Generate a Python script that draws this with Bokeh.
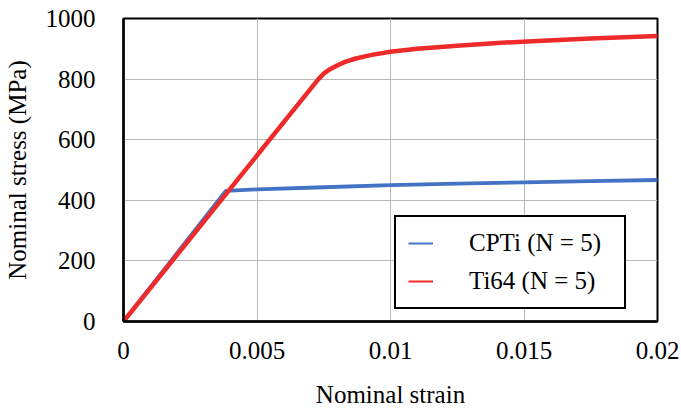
from bokeh.plotting import figure
from bokeh.models import FixedTicker, Legend, LegendItem, NumeralTickFormatter
from bokeh.embed import file_html
from bokeh.resources import INLINE

# ---- data ----
cpti_strain = [0, 0.00383, 0.005, 0.0075, 0.01, 0.0125, 0.015, 0.0175, 0.02]
cpti_stress = [0, 431, 436, 443, 450, 455, 459, 463, 467]

ti64_strain = [0, 0.0073, 0.0075, 0.0077, 0.0080, 0.0083, 0.0087, 0.0093, 0.0100,
               0.0110, 0.0125, 0.0140, 0.0155, 0.0175, 0.0200]
ti64_stress = [0, 800, 818, 831, 845, 857, 868, 880, 890,
               900, 910, 919, 926, 934, 942]

series_names = ["CPTi (N = 5)", "Ti64 (N = 5)"]
series_colors = ["#4472C4", "#EE2A2A"]

x_ticks = [0, 0.005, 0.01, 0.015, 0.02]
x_tick_labels = ["0", "0.005", "0.01", "0.015", "0.02"]
y_ticks = [0, 200, 400, 600, 800, 1000]
y_tick_labels = ["0", "200", "400", "600", "800", "1000"]

FONT = "Liberation Serif"
FS = "25px"

p = figure(frame_width=534, frame_height=303,
           x_range=(0, 0.02), y_range=(0, 1000),
           output_backend="svg", toolbar_location=None,
           min_border_left=115, min_border_top=18,
           min_border_right=23, min_border_bottom=88,
           x_axis_label="Nominal strain", y_axis_label="Nominal stress (MPa)")

p.background_fill_color = "white"
p.border_fill_color = "white"
p.outline_line_color = "black"
p.outline_line_width = 2

# thin copies (hidden under the thick curves) give the legend its thin swatches
l1 = p.line(cpti_strain, cpti_stress, line_color=series_colors[0], line_width=2)
l2 = p.line(ti64_strain, ti64_stress, line_color=series_colors[1], line_width=2)

r1 = p.line(cpti_strain, cpti_stress, line_color=series_colors[0], line_width=3.8)
r2 = p.line(ti64_strain, ti64_stress, line_color=series_colors[1], line_width=4.5)

# axes
p.xaxis.ticker = FixedTicker(ticks=x_ticks)
p.xaxis.formatter = NumeralTickFormatter(format="0.[000]")
p.xaxis.major_label_overrides = {t: l for t, l in zip(x_ticks, x_tick_labels)}
p.yaxis.ticker = FixedTicker(ticks=y_ticks)
p.yaxis.major_label_overrides = {t: l for t, l in zip(y_ticks, y_tick_labels)}

for ax in (p.xaxis, p.yaxis):
    ax.axis_line_color = "black"
    ax.axis_line_width = 2.5
    ax.major_tick_line_color = None
    ax.minor_tick_line_color = None
    ax.major_label_text_font = FONT
    ax.major_label_text_font_size = FS
    ax.major_label_text_color = "black"
    ax.axis_label_text_font = FONT
    ax.axis_label_text_font_size = FS
    ax.axis_label_text_font_style = "normal"
    ax.axis_label_text_color = "black"

p.xaxis.major_label_standoff = 14
p.xaxis.axis_label_standoff = 19
p.yaxis.major_label_standoff = 22
p.yaxis.axis_label_standoff = 12

p.xgrid.grid_line_color = "#B8B8B8"
p.ygrid.grid_line_color = "#B8B8B8"
p.xgrid.grid_line_width = 1
p.ygrid.grid_line_width = 1

legend = Legend(items=[LegendItem(label=series_names[0], renderers=[l1]),
                       LegendItem(label=series_names[1], renderers=[l2])],
                location=(271, 12))
legend.border_line_color = "black"
legend.border_line_width = 2
legend.border_line_alpha = 1
legend.background_fill_color = "white"
legend.background_fill_alpha = 1
legend.label_text_font = FONT
legend.label_text_font_size = FS
legend.label_text_color = "black"
legend.padding = 12
legend.spacing = 10
legend.label_height = 28
legend.glyph_height = 28
legend.glyph_width = 25
legend.label_standoff = 36
legend.label_width = 143
legend.margin = 0
p.add_layout(legend, "center")

open("out.html", "w").write(file_html(p, INLINE))
